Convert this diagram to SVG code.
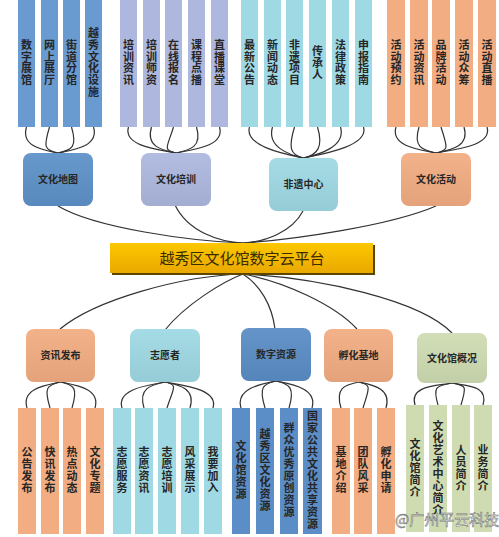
<svg xmlns="http://www.w3.org/2000/svg" width="499" height="537" viewBox="0 0 499 537">
<defs>
<linearGradient id="gold" x1="0" y1="0" x2="0" y2="1"><stop offset="0" stop-color="#fcc800"/><stop offset="1" stop-color="#eaa800"/></linearGradient>
<linearGradient id="boxsheen" x1="0" y1="0" x2="0" y2="1"><stop offset="0" stop-color="#fff" stop-opacity="0.06"/><stop offset="1" stop-color="#000" stop-opacity="0.06"/></linearGradient>
</defs>
<style>
.bar text{font-family:"Noto Sans CJK SC","Noto Sans CJK TC",sans-serif;font-weight:bold;font-size:11px;fill:#262626;text-anchor:middle}
.box text{font-family:"Noto Sans CJK SC","Noto Sans CJK TC",sans-serif;font-weight:bold;font-size:10px;fill:#262626;text-anchor:middle}
.c1{fill:#6a9bd0}.c2{fill:#aeb8df}.c3{fill:#9fd9e4}.c4{fill:#f2ad82}.c5{fill:#5b8dc6}.c6{fill:#cfdcb2}.c0{fill:#5e92c9}
.conn path{fill:none;stroke:#333;stroke-width:1.2}
</style>

<g id="connectors" class="conn">
<path d="M26.5 127 C20.5 147 44 150 58 153"/>
<path d="M49.5 127 C43.5 147 44 150 58 153"/>
<path d="M71.5 127 C77.5 147 72 150 58 153"/>
<path d="M93.5 127 C99.5 147 72 150 58 153"/>
<path d="M128.5 127 C122.5 147 162 150 176 153"/>
<path d="M151.5 127 C145.5 147 162 150 176 153"/>
<path d="M173.5 127 C167.5 147 162 150 176 153"/>
<path d="M196.5 127 C202.5 147 190 150 176 153"/>
<path d="M219.5 127 C225.5 147 190 150 176 153"/>
<path d="M249.5 127 C243.5 147 289.5 155 303.5 158"/>
<path d="M272.5 127 C266.5 147 289.5 155 303.5 158"/>
<path d="M294.5 127 C288.5 147 289.5 155 303.5 158"/>
<path d="M317.5 127 C323.5 147 317.5 155 303.5 158"/>
<path d="M340.5 127 C346.5 147 317.5 155 303.5 158"/>
<path d="M363.5 127 C369.5 147 317.5 155 303.5 158"/>
<path d="M396 127 C390 147 422 150 436 153"/>
<path d="M419 127 C413 147 422 150 436 153"/>
<path d="M441 127 C447 147 450 150 436 153"/>
<path d="M464 127 C470 147 450 150 436 153"/>
<path d="M487 127 C493 147 450 150 436 153"/>
<path d="M58 206 C95 228 190 241 243 243"/>
<path d="M175 205 C188 232 220 242 243 243"/>
<path d="M303 211 C292 232 265 242 243 243"/>
<path d="M436 206 C390 226 290 240 243 243"/>
<path d="M243 274 C180 276 95 300 60 329"/>
<path d="M243 274 C222 282 185 305 165 330"/>
<path d="M243 274 C260 285 272 305 275 329"/>
<path d="M243 274 C285 282 335 305 357 329"/>
<path d="M243 274 C320 278 420 300 452 333"/>
<path d="M27 408 C21 388 46.5 385 60.5 382"/>
<path d="M50 408 C44 388 46.5 385 60.5 382"/>
<path d="M72 408 C78 388 74.5 385 60.5 382"/>
<path d="M95 408 C101 388 74.5 385 60.5 382"/>
<path d="M122 408 C116 388 151 385 165 382"/>
<path d="M144 408 C138 388 151 385 165 382"/>
<path d="M167 408 C173 388 179 385 165 382"/>
<path d="M190 408 C196 388 179 385 165 382"/>
<path d="M213 408 C219 388 179 385 165 382"/>
<path d="M241 408 C235 388 262 384 276 381"/>
<path d="M265 408 C259 388 262 384 276 381"/>
<path d="M289 408 C295 388 290 384 276 381"/>
<path d="M312 408 C318 388 290 384 276 381"/>
<path d="M341 408 C335 388 344.5 385 358.5 382"/>
<path d="M363 408 C369 388 372.5 385 358.5 382"/>
<path d="M386 408 C392 388 372.5 385 358.5 382"/>
<path d="M415 405 C409 385 438 386 452 383"/>
<path d="M438 405 C432 385 438 386 452 383"/>
<path d="M461 405 C467 385 466 386 452 383"/>
<path d="M483 405 C489 385 466 386 452 383"/>
</g>

<g id="box-wenhuaditu" class="box"><rect x="23" y="153" width="70" height="53" rx="8" class="c0"/><rect x="23" y="153" width="70" height="53" rx="8" fill="url(#boxsheen)"/><text x="58" y="183">文化地图</text></g>
<g id="box-wenhuapeixun" class="box"><rect x="141" y="153" width="70" height="53" rx="8" class="c2"/><rect x="141" y="153" width="70" height="53" rx="8" fill="url(#boxsheen)"/><text x="176" y="183">文化培训</text></g>
<g id="box-feiyi" class="box"><rect x="269" y="158" width="69" height="53" rx="8" class="c3"/><rect x="269" y="158" width="69" height="53" rx="8" fill="url(#boxsheen)"/><text x="303.5" y="188">非遗中心</text></g>
<g id="box-huodong" class="box"><rect x="401" y="153" width="70" height="53" rx="8" class="c4"/><rect x="401" y="153" width="70" height="53" rx="8" fill="url(#boxsheen)"/><text x="436" y="183">文化活动</text></g>

<g id="hub">
<rect x="112" y="245" width="263" height="30" fill="#5a4600"/>
<rect x="110" y="243" width="263" height="30" fill="url(#gold)"/>
<text x="242" y="264" font-family="'Noto Sans CJK SC',sans-serif" font-size="15" fill="#3a2a00" text-anchor="middle">越秀区文化馆数字云平台</text>
</g>

<g id="box-zixun" class="box"><rect x="26" y="329" width="69" height="53" rx="8" class="c4"/><rect x="26" y="329" width="69" height="53" rx="8" fill="url(#boxsheen)"/><text x="60.5" y="359">资讯发布</text></g>
<g id="box-zhiyuan" class="box"><rect x="130" y="329" width="70" height="53" rx="8" class="c3"/><rect x="130" y="329" width="70" height="53" rx="8" fill="url(#boxsheen)"/><text x="165" y="359">志愿者</text></g>
<g id="box-shuzi" class="box"><rect x="241" y="328" width="70" height="53" rx="8" class="c5"/><rect x="241" y="328" width="70" height="53" rx="8" fill="url(#boxsheen)"/><text x="276" y="358">数字资源</text></g>
<g id="box-fuhua" class="box"><rect x="324" y="329" width="69" height="53" rx="8" class="c4"/><rect x="324" y="329" width="69" height="53" rx="8" fill="url(#boxsheen)"/><text x="358.5" y="359">孵化基地</text></g>
<g id="box-gaikuang" class="box"><rect x="417" y="333" width="70" height="50" rx="8" class="c6"/><rect x="417" y="333" width="70" height="50" rx="8" fill="url(#boxsheen)"/><text x="452" y="362">文化馆概况</text></g>

<g id="bars-wenhuaditu" class="bar">
<rect x="18" y="0" width="17" height="127" class="c1"/><rect x="41" y="0" width="17" height="127" class="c1"/><rect x="63" y="0" width="17" height="127" class="c1"/><rect x="85" y="0" width="17" height="127" class="c1"/>
<text><tspan x="26.5" y="49">数</tspan><tspan x="26.5" y="60.7">字</tspan><tspan x="26.5" y="72.4">展</tspan><tspan x="26.5" y="84.1">馆</tspan></text>
<text><tspan x="49.5" y="49">网</tspan><tspan x="49.5" y="60.7">上</tspan><tspan x="49.5" y="72.4">展</tspan><tspan x="49.5" y="84.1">厅</tspan></text>
<text><tspan x="71.5" y="49">街</tspan><tspan x="71.5" y="60.7">道</tspan><tspan x="71.5" y="72.4">分</tspan><tspan x="71.5" y="84.1">馆</tspan></text>
<text><tspan x="93.5" y="37.3">越</tspan><tspan x="93.5" y="49">秀</tspan><tspan x="93.5" y="60.7">文</tspan><tspan x="93.5" y="72.4">化</tspan><tspan x="93.5" y="84.1">设</tspan><tspan x="93.5" y="95.8">施</tspan></text>
</g>
<g id="bars-wenhuapeixun" class="bar">
<rect x="120" y="0" width="17" height="127" class="c2"/><rect x="143" y="0" width="17" height="127" class="c2"/><rect x="165" y="0" width="17" height="127" class="c2"/><rect x="188" y="0" width="17" height="127" class="c2"/><rect x="211" y="0" width="17" height="127" class="c2"/>
<text><tspan x="128.5" y="49">培</tspan><tspan x="128.5" y="60.7">训</tspan><tspan x="128.5" y="72.4">资</tspan><tspan x="128.5" y="84.1">讯</tspan></text>
<text><tspan x="151.5" y="49">培</tspan><tspan x="151.5" y="60.7">训</tspan><tspan x="151.5" y="72.4">师</tspan><tspan x="151.5" y="84.1">资</tspan></text>
<text><tspan x="173.5" y="49">在</tspan><tspan x="173.5" y="60.7">线</tspan><tspan x="173.5" y="72.4">报</tspan><tspan x="173.5" y="84.1">名</tspan></text>
<text><tspan x="196.5" y="49">课</tspan><tspan x="196.5" y="60.7">程</tspan><tspan x="196.5" y="72.4">点</tspan><tspan x="196.5" y="84.1">播</tspan></text>
<text><tspan x="219.5" y="49">直</tspan><tspan x="219.5" y="60.7">播</tspan><tspan x="219.5" y="72.4">课</tspan><tspan x="219.5" y="84.1">堂</tspan></text>
</g>
<g id="bars-feiyi" class="bar">
<rect x="241" y="0" width="17" height="127" class="c3"/><rect x="264" y="0" width="17" height="127" class="c3"/><rect x="286" y="0" width="17" height="127" class="c3"/><rect x="309" y="0" width="17" height="127" class="c3"/><rect x="332" y="0" width="17" height="127" class="c3"/><rect x="355" y="0" width="17" height="127" class="c3"/>
<text><tspan x="249.5" y="49">最</tspan><tspan x="249.5" y="60.7">新</tspan><tspan x="249.5" y="72.4">公</tspan><tspan x="249.5" y="84.1">告</tspan></text>
<text><tspan x="272.5" y="49">新</tspan><tspan x="272.5" y="60.7">闻</tspan><tspan x="272.5" y="72.4">动</tspan><tspan x="272.5" y="84.1">态</tspan></text>
<text><tspan x="294.5" y="49">非</tspan><tspan x="294.5" y="60.7">遗</tspan><tspan x="294.5" y="72.4">项</tspan><tspan x="294.5" y="84.1">目</tspan></text>
<text><tspan x="317.5" y="55">传</tspan><tspan x="317.5" y="66.7">承</tspan><tspan x="317.5" y="78.4">人</tspan></text>
<text><tspan x="340.5" y="49">法</tspan><tspan x="340.5" y="60.7">律</tspan><tspan x="340.5" y="72.4">政</tspan><tspan x="340.5" y="84.1">策</tspan></text>
<text><tspan x="363.5" y="49">申</tspan><tspan x="363.5" y="60.7">报</tspan><tspan x="363.5" y="72.4">指</tspan><tspan x="363.5" y="84.1">南</tspan></text>
</g>
<g id="bars-huodong" class="bar">
<rect x="387" y="0" width="18" height="127" class="c4"/><rect x="410" y="0" width="18" height="127" class="c4"/><rect x="432" y="0" width="18" height="127" class="c4"/><rect x="455" y="0" width="18" height="127" class="c4"/><rect x="478" y="0" width="18" height="127" class="c4"/>
<text><tspan x="396" y="49">活</tspan><tspan x="396" y="60.7">动</tspan><tspan x="396" y="72.4">预</tspan><tspan x="396" y="84.1">约</tspan></text>
<text><tspan x="419" y="49">活</tspan><tspan x="419" y="60.7">动</tspan><tspan x="419" y="72.4">资</tspan><tspan x="419" y="84.1">讯</tspan></text>
<text><tspan x="441" y="49">品</tspan><tspan x="441" y="60.7">牌</tspan><tspan x="441" y="72.4">活</tspan><tspan x="441" y="84.1">动</tspan></text>
<text><tspan x="464" y="49">活</tspan><tspan x="464" y="60.7">动</tspan><tspan x="464" y="72.4">众</tspan><tspan x="464" y="84.1">筹</tspan></text>
<text><tspan x="487" y="49">活</tspan><tspan x="487" y="60.7">动</tspan><tspan x="487" y="72.4">直</tspan><tspan x="487" y="84.1">播</tspan></text>
</g>

<g id="bars-zixun" class="bar">
<rect x="18" y="408" width="18" height="126" class="c4"/><rect x="41" y="408" width="18" height="126" class="c4"/><rect x="63" y="408" width="18" height="126" class="c4"/><rect x="86" y="408" width="18" height="126" class="c4"/>
<text><tspan x="27" y="456">公</tspan><tspan x="27" y="468">告</tspan><tspan x="27" y="480">发</tspan><tspan x="27" y="492">布</tspan></text>
<text><tspan x="50" y="456">快</tspan><tspan x="50" y="468">讯</tspan><tspan x="50" y="480">发</tspan><tspan x="50" y="492">布</tspan></text>
<text><tspan x="72" y="456">热</tspan><tspan x="72" y="468">点</tspan><tspan x="72" y="480">动</tspan><tspan x="72" y="492">态</tspan></text>
<text><tspan x="95" y="456">文</tspan><tspan x="95" y="468">化</tspan><tspan x="95" y="480">专</tspan><tspan x="95" y="492">题</tspan></text>
</g>
<g id="bars-zhiyuan" class="bar">
<rect x="113" y="408" width="18" height="126" class="c3"/><rect x="135" y="408" width="18" height="126" class="c3"/><rect x="158" y="408" width="18" height="126" class="c3"/><rect x="181" y="408" width="18" height="126" class="c3"/><rect x="204" y="408" width="18" height="126" class="c3"/>
<text><tspan x="122" y="456">志</tspan><tspan x="122" y="468">愿</tspan><tspan x="122" y="480">服</tspan><tspan x="122" y="492">务</tspan></text>
<text><tspan x="144" y="456">志</tspan><tspan x="144" y="468">愿</tspan><tspan x="144" y="480">资</tspan><tspan x="144" y="492">讯</tspan></text>
<text><tspan x="167" y="456">志</tspan><tspan x="167" y="468">愿</tspan><tspan x="167" y="480">培</tspan><tspan x="167" y="492">训</tspan></text>
<text><tspan x="190" y="456">风</tspan><tspan x="190" y="468">采</tspan><tspan x="190" y="480">展</tspan><tspan x="190" y="492">示</tspan></text>
<text><tspan x="213" y="456">我</tspan><tspan x="213" y="468">要</tspan><tspan x="213" y="480">加</tspan><tspan x="213" y="492">入</tspan></text>
</g>
<g id="bars-shuzi" class="bar">
<rect x="232" y="408" width="18" height="126" class="c5"/><rect x="256" y="408" width="18" height="126" class="c5"/><rect x="280" y="408" width="18" height="126" class="c5"/><rect x="303" y="408" width="19" height="126" class="c5"/>
<text><tspan x="241" y="450">文</tspan><tspan x="241" y="462">化</tspan><tspan x="241" y="474">馆</tspan><tspan x="241" y="486">资</tspan><tspan x="241" y="498">源</tspan></text>
<text><tspan x="265" y="438">越</tspan><tspan x="265" y="450">秀</tspan><tspan x="265" y="462">区</tspan><tspan x="265" y="474">文</tspan><tspan x="265" y="486">化</tspan><tspan x="265" y="498">资</tspan><tspan x="265" y="510">源</tspan></text>
<text><tspan x="289" y="432">群</tspan><tspan x="289" y="444">众</tspan><tspan x="289" y="456">优</tspan><tspan x="289" y="468">秀</tspan><tspan x="289" y="480">原</tspan><tspan x="289" y="492">创</tspan><tspan x="289" y="504">资</tspan><tspan x="289" y="516">源</tspan></text>
<text><tspan x="312.5" y="420">国</tspan><tspan x="312.5" y="432">家</tspan><tspan x="312.5" y="444">公</tspan><tspan x="312.5" y="456">共</tspan><tspan x="312.5" y="468">文</tspan><tspan x="312.5" y="480">化</tspan><tspan x="312.5" y="492">共</tspan><tspan x="312.5" y="504">享</tspan><tspan x="312.5" y="516">资</tspan><tspan x="312.5" y="528">源</tspan></text>
</g>
<g id="bars-fuhua" class="bar">
<rect x="332" y="408" width="18" height="126" class="c4"/><rect x="354" y="408" width="18" height="126" class="c4"/><rect x="377" y="408" width="18" height="126" class="c4"/>
<text><tspan x="341" y="456">基</tspan><tspan x="341" y="468">地</tspan><tspan x="341" y="480">介</tspan><tspan x="341" y="492">绍</tspan></text>
<text><tspan x="363" y="456">团</tspan><tspan x="363" y="468">队</tspan><tspan x="363" y="480">风</tspan><tspan x="363" y="492">采</tspan></text>
<text><tspan x="386" y="456">孵</tspan><tspan x="386" y="468">化</tspan><tspan x="386" y="480">申</tspan><tspan x="386" y="492">请</tspan></text>
</g>
<g id="bars-gaikuang" class="bar">
<rect x="406" y="405" width="18" height="127" class="c6"/><rect x="429" y="405" width="18" height="127" class="c6"/><rect x="452" y="405" width="18" height="127" class="c6"/><rect x="474" y="405" width="18" height="127" class="c6"/>
<text><tspan x="415" y="448">文</tspan><tspan x="415" y="460">化</tspan><tspan x="415" y="472">馆</tspan><tspan x="415" y="484">简</tspan><tspan x="415" y="496">介</tspan></text>
<text><tspan x="438" y="430">文</tspan><tspan x="438" y="442">化</tspan><tspan x="438" y="454">艺</tspan><tspan x="438" y="466">术</tspan><tspan x="438" y="478">中</tspan><tspan x="438" y="490">心</tspan><tspan x="438" y="502">简</tspan><tspan x="438" y="514">介</tspan></text>
<text><tspan x="461" y="454">人</tspan><tspan x="461" y="466">员</tspan><tspan x="461" y="478">简</tspan><tspan x="461" y="490">介</tspan></text>
<text><tspan x="483" y="454">业</tspan><tspan x="483" y="466">务</tspan><tspan x="483" y="478">简</tspan><tspan x="483" y="490">介</tspan></text>
</g>

<text x="395" y="525" font-family="'Noto Sans CJK SC',sans-serif" font-size="15" fill="#ffffff" fill-opacity="0.85" stroke="#777" stroke-width="0.6">@广州平云科技</text>
</svg>
